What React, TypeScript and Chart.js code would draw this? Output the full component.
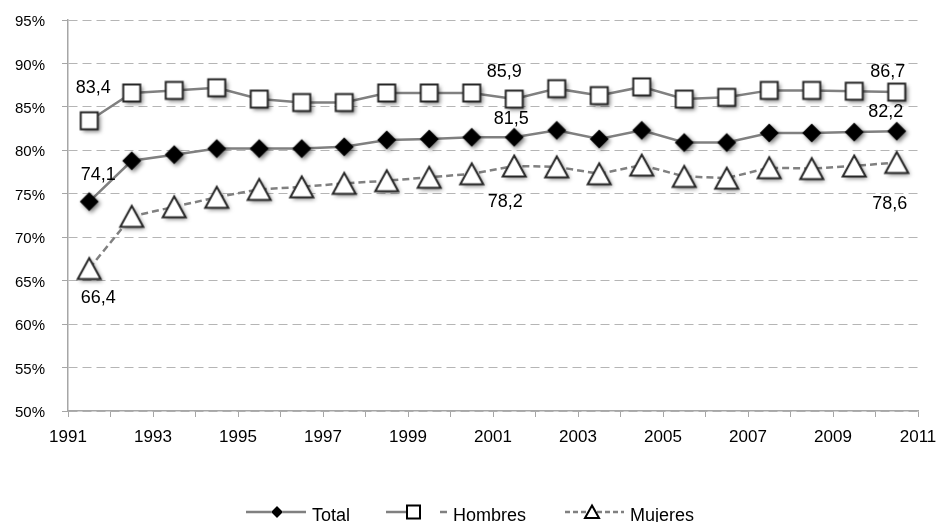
import { useEffect, useRef } from 'react';
import { Chart, registerables } from 'chart.js';

Chart.register(...registerables);

const years = [1991, 1992, 1993, 1994, 1995, 1996, 1997, 1998, 1999, 2000, 2001, 2002, 2003, 2004, 2005, 2006, 2007, 2008, 2009, 2010];
const total = [74.1, 78.8, 79.5, 80.2, 80.2, 80.2, 80.4, 81.2, 81.3, 81.5, 81.5, 82.3, 81.3, 82.3, 80.9, 80.9, 82.0, 82.0, 82.1, 82.2];
const hombres = [83.4, 86.6, 86.9, 87.2, 85.9, 85.5, 85.5, 86.6, 86.6, 86.6, 85.9, 87.1, 86.3, 87.3, 85.9, 86.1, 86.9, 86.9, 86.8, 86.7];
const mujeres = [66.4, 72.4, 73.5, 74.6, 75.5, 75.8, 76.2, 76.5, 76.9, 77.3, 78.2, 78.1, 77.3, 78.3, 77.0, 76.8, 78.0, 77.9, 78.2, 78.6];
const seriesNames = ['Total', 'Hombres', 'Mujeres'];
const yTicks = { min: 50, max: 95, step: 5 };
const xRange = { min: 1991, max: 2011 };

// label offsets (dataset, index, dx, dy)
const labelOffsets: [number, number, number, number][] = [
  [0, 0, 9, -27], [0, 10, -3, -18], [0, 19, -11, -19],
  [1, 0, 4, -33], [1, 10, -10, -27], [1, 19, -9, -20],
  [2, 0, 9, 30], [2, 10, -9, 36], [2, 19, -7, 42],
];

const FONT = "'Liberation Sans', Arial, sans-serif";
const LINE = '#808080';

function makeMarker(kind: string): HTMLCanvasElement {
  const c = document.createElement('canvas');
  c.width = 36; c.height = 36;
  const g = c.getContext('2d')!;
  const cx = 18, cy = 18;
  g.shadowColor = 'rgba(0,0,0,0.5)';
  g.shadowBlur = 4;
  g.shadowOffsetX = 2;
  g.shadowOffsetY = 2;
  g.beginPath();
  if (kind === 'diamond') {
    const r = 9.5;
    g.moveTo(cx, cy - r); g.lineTo(cx + r, cy); g.lineTo(cx, cy + r); g.lineTo(cx - r, cy); g.closePath();
    g.fillStyle = '#000';
    g.fill();
  } else if (kind === 'square') {
    g.rect(cx - 8.5, cy - 8.5, 17, 17);
    g.fillStyle = '#fff';
    g.fill();
    g.shadowColor = 'transparent';
    g.lineWidth = 2;
    g.strokeStyle = '#262626';
    g.stroke();
  } else {
    g.moveTo(cx, cy - 10.5); g.lineTo(cx + 11.5, cy + 10.5); g.lineTo(cx - 11.5, cy + 10.5); g.closePath();
    g.fillStyle = '#fff';
    g.fill();
    g.shadowColor = 'transparent';
    g.lineWidth = 2;
    g.lineJoin = 'miter';
    g.strokeStyle = '#262626';
    g.stroke();
  }
  return c;
}

const fmt = (v: number) => v.toFixed(1).replace('.', ',');

export default function App() {
  const ref = useRef<HTMLCanvasElement>(null);
  useEffect(() => {
    document.body.style.margin = '0';
    const diamond = makeMarker('diamond');
    const square = makeMarker('square');
    const tri = makeMarker('triangle');

    const labelsPlugin = {
      id: 'dataLabels',
      afterDatasetsDraw(chart: any) {
        const ctx = chart.ctx;
        ctx.save();
        ctx.font = `18px ${FONT}`;
        ctx.fillStyle = '#000';
        ctx.textAlign = 'center';
        ctx.textBaseline = 'middle';
        for (const [ds, i, dx, dy] of labelOffsets) {
          const el = chart.getDatasetMeta(ds).data[i];
          const v = chart.data.datasets[ds].data[i].y;
          ctx.fillText(fmt(v), el.x + dx, el.y + dy);
        }
        ctx.restore();
      },
    };

    const legendPlugin = {
      id: 'customLegend',
      afterDraw(chart: any) {
        const ctx = chart.ctx;
        const y = 512;
        ctx.save();
        ctx.strokeStyle = LINE;
        ctx.lineWidth = 2.5;
        // Total
        ctx.beginPath(); ctx.moveTo(246, y); ctx.lineTo(306, y); ctx.stroke();
        ctx.beginPath();
        ctx.moveTo(277, y - 6); ctx.lineTo(283, y); ctx.lineTo(277, y + 6); ctx.lineTo(271, y); ctx.closePath();
        ctx.fillStyle = '#000'; ctx.fill();
        ctx.lineWidth = 1; ctx.strokeStyle = '#888'; ctx.stroke();
        // Hombres
        ctx.strokeStyle = LINE; ctx.lineWidth = 2.5;
        ctx.beginPath(); ctx.moveTo(386, y); ctx.lineTo(408, y); ctx.stroke();
        ctx.beginPath(); ctx.moveTo(440, y); ctx.lineTo(447, y); ctx.stroke();
        ctx.fillStyle = '#fff'; ctx.fillRect(407, y - 6.5, 13, 13);
        ctx.lineWidth = 2; ctx.strokeStyle = '#000'; ctx.strokeRect(407, y - 6.5, 13, 13);
        // Mujeres
        ctx.strokeStyle = LINE; ctx.lineWidth = 2.5;
        ctx.setLineDash([5, 3]);
        ctx.beginPath(); ctx.moveTo(565, y); ctx.lineTo(624, y); ctx.stroke();
        ctx.setLineDash([]);
        ctx.beginPath();
        ctx.moveTo(592, y - 6.5); ctx.lineTo(599, y + 6); ctx.lineTo(585, y + 6); ctx.closePath();
        ctx.fillStyle = '#fff'; ctx.fill();
        ctx.lineWidth = 2; ctx.strokeStyle = '#000'; ctx.stroke();
        // texts
        ctx.font = `18px ${FONT}`;
        ctx.fillStyle = '#000';
        ctx.textAlign = 'left';
        ctx.textBaseline = 'alphabetic';
        ctx.fillText(seriesNames[0], 312, 521);
        ctx.fillText(seriesNames[1], 453, 521);
        ctx.fillText(seriesNames[2], 630, 521);
        ctx.restore();
      },
    };

    const mk = (arr: number[]) => arr.map((v, i) => ({ x: years[i] + 0.5, y: v }));

    const chart = new Chart(ref.current!, {
      type: 'line',
      data: {
        datasets: [
          {
            label: seriesNames[0], data: mk(total) as any, borderColor: LINE, borderWidth: 2.5,
            pointStyle: diamond as any, pointRadius: 10, fill: false, tension: 0, order: 2,
          },
          {
            label: seriesNames[1], data: mk(hombres) as any, borderColor: LINE, borderWidth: 2.5,
            pointStyle: square as any, pointRadius: 10, fill: false, tension: 0, order: 1,
          },
          {
            label: seriesNames[2], data: mk(mujeres) as any, borderColor: LINE, borderWidth: 2.5, borderDash: [7, 4],
            pointStyle: tri as any, pointRadius: 10, fill: false, tension: 0, order: 3,
          },
        ],
      },
      options: {
        responsive: false,
        animation: false,
        events: [],
        layout: { padding: { top: 20, right: 21, left: 0, bottom: 0 } },
        plugins: { legend: { display: false }, tooltip: { enabled: false } },
        scales: {
          x: {
            type: 'linear',
            min: xRange.min,
            max: xRange.max,
            afterFit: (s: any) => { s.height = 111; s.paddingLeft = 0; s.paddingRight = 0; },
            grid: { display: true, drawOnChartArea: false, drawTicks: true, tickLength: 6, color: '#a6a6a6', lineWidth: 1 },
            border: { display: true, color: '#a6a6a6', width: 1.5 },
            ticks: {
              stepSize: 1,
              autoSkip: false,
              maxRotation: 0,
              minRotation: 0,
              padding: 10,
              color: '#000',
              font: { family: FONT, size: 17 },
              callback: (v: any) => (Number(v) % 2 === 1 ? String(v) : ''),
            },
          },
          y: {
            min: yTicks.min,
            max: yTicks.max,
            afterFit: (s: any) => { s.width = 68; s.paddingTop = 0; s.paddingBottom = 0; },
            grid: { color: '#b5b5b5', lineWidth: 1, tickLength: 6, tickColor: '#a6a6a6', tickBorderDash: [] },
            border: { display: true, color: '#a6a6a6', width: 1.5, dash: [9, 5] },
            ticks: {
              stepSize: yTicks.step,
              padding: 17,
              labelOffset: 2,
              color: '#000',
              font: { family: FONT, size: 15 },
              callback: (v: any) => `${v}%`,
            },
          },
        },
      },
      plugins: [labelsPlugin, legendPlugin],
    });
    return () => chart.destroy();
  }, []);
  return (
    <div style={{ width: 939, height: 522 }}>
      <canvas ref={ref} width={939} height={522} style={{ display: 'block' }} />
    </div>
  );
}
